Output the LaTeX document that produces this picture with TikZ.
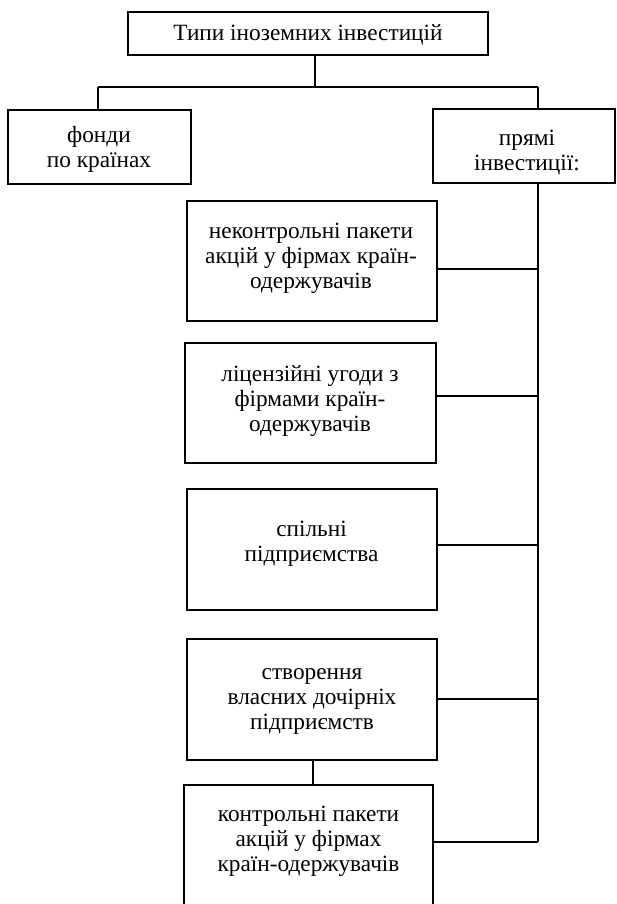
\documentclass[tikz,border=0pt]{standalone}
\usepackage{fontspec}
\setmainfont{Liberation Serif}
\begin{document}
\begin{tikzpicture}[x=1pt,y=-1pt,
  box/.style={draw, line width=2.4pt, inner sep=0pt},
  txt/.style={align=center, inner sep=0pt, yshift=-3pt, font=\fontsize{23.3}{25}\selectfont},
  conn/.style={line width=2.4pt}]
\useasboundingbox (0,0) rectangle (617,904);
\clip (0,0) rectangle (617,904);
% boxes
\node[box, minimum width=360pt, minimum height=43pt] (title) at (308,33.5) {};
\node[box, minimum width=183pt, minimum height=74pt] (left) at (99.5,147) {};
\node[box, minimum width=182pt, minimum height=74pt] (right) at (524,146) {};
\node[box, minimum width=250pt, minimum height=120pt] (b1) at (312,261) {};
\node[box, minimum width=251pt, minimum height=120pt] (b2) at (310.5,403) {};
\node[box, minimum width=250pt, minimum height=121pt] (b3) at (312,549.5) {};
\node[box, minimum width=250pt, minimum height=121pt] (b4) at (312,699.5) {};
\node[box, minimum width=249pt, minimum height=130pt] (b5) at (308.5,850) {};
% texts
\node[txt] (ttitle) at (308,33) {\strut Типи іноземних інвестицій};
\node[txt] (tleft) at (99,147) {\strut фонди\\\strut по країнах};
\node[txt] (tright) at (527,150) {\strut прямі\\\strut інвестиції:};
\node[txt] (t1) at (311,255) {\strut неконтрольні пакети\\\strut акцій у фірмах країн-\\\strut одержувачів};
\node[txt] (t2) at (310,398) {\strut ліцензійні угоди з\\\strut фірмами країн-\\\strut одержувачів};
\node[txt] (t3) at (311.5,541) {\strut спільні\\\strut підприємства};
\node[txt] (t4) at (312,696) {\strut створення\\\strut власних дочірніх\\\strut підприємств};
\node[txt] (t5) at (308.5,838) {\strut контрольні пакети\\\strut акцій у фірмах\\\strut країн-одержувачів};
% junction coordinates
\coordinate (tj) at (315,87);
\coordinate (lj) at (98,87);
\coordinate (rj) at (538,87);
\coordinate (s1) at (538,269);
\coordinate (s2) at (538,396);
\coordinate (s3) at (538,545);
\coordinate (s4) at (538,699);
\coordinate (s5) at (538,842);
% connectors
\draw[conn] (title.south -| tj) -- (tj);
\draw[conn] (lj) -- (rj);
\draw[conn] (lj) -- (lj |- left.north);
\draw[conn] (rj) -- (rj |- right.north);
\draw[conn] (right.south -| s1) -- (s5);
\draw[conn] (b1.east |- s1) -- (s1);
\draw[conn] (b2.east |- s2) -- (s2);
\draw[conn] (b3.east |- s3) -- (s3);
\draw[conn] (b4.east |- s4) -- (s4);
\draw[conn] (b5.east |- s5) -- (s5);
\draw[conn] (b4.south -| 313,0) -- (b5.north -| 313,0);
\end{tikzpicture}
\end{document}
